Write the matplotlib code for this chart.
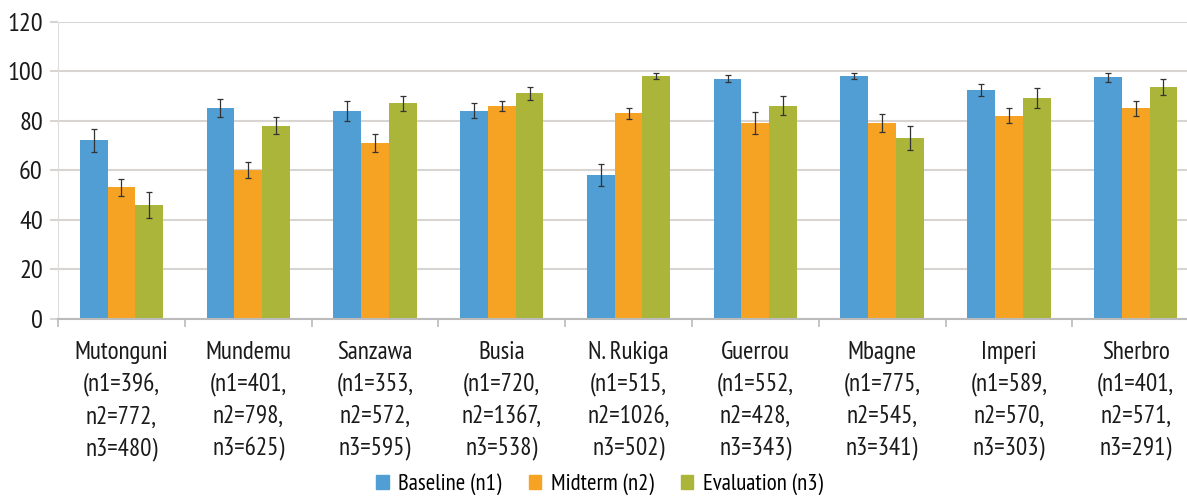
import numpy as np
import matplotlib.pyplot as plt
from matplotlib.patches import Patch

# sites and sample sizes
sites = ["Mutonguni", "Mundemu", "Sanzawa", "Busia", "N. Rukiga",
         "Guerrou", "Mbagne", "Imperi", "Sherbro"]
n1 = [396, 401, 353, 720, 515, 552, 775, 589, 401]
n2 = [772, 798, 572, 1367, 1026, 428, 545, 570, 571]
n3 = [480, 625, 595, 538, 502, 343, 341, 303, 291]

# percentages per round and error bar half-widths
baseline = [72, 85, 84, 84, 58, 97, 98, 92.5, 97.5]
midterm = [53, 60, 71, 86, 83, 79, 79, 82, 85]
evaluation = [46, 78, 87, 91, 98, 86, 73, 89, 93.5]
baseline_err = [4.5, 3.6, 4.0, 3.0, 4.5, 1.5, 1.2, 2.5, 1.7]
midterm_err = [3.4, 3.3, 3.6, 2.0, 2.3, 4.6, 3.5, 3.0, 3.0]
evaluation_err = [5.2, 3.5, 3.0, 2.5, 1.3, 3.8, 4.9, 4.0, 3.2]

series = ["Baseline (n1)", "Midterm (n2)", "Evaluation (n3)"]
colors = ["#509ED4", "#F6A323", "#AAB53A"]

plt.rcParams['font.family'] = ['PT Sans Narrow', 'DejaVu Sans']

fig = plt.figure(figsize=(11.87, 4.99), dpi=100)
ax = fig.add_axes([0.0489, 0.3617, 0.9613, 0.5948])

x = np.arange(len(sites))
w = 0.219
for k, (vals, errs) in enumerate([(baseline, baseline_err),
                                  (midterm, midterm_err),
                                  (evaluation, evaluation_err)]):
    ax.bar(x + (k - 1) * w, vals, width=w, color=colors[k], zorder=2)
    ax.errorbar(x + (k - 1) * w, vals, yerr=errs, fmt='none',
                ecolor='#333333', elinewidth=0.9, capsize=2, capthick=0.9, zorder=3)

ax.set_xlim(-0.5, len(sites) - 0.5)
ax.set_ylim(0, 120)
ax.set_yticks(range(0, 121, 20))
ax.yaxis.grid(True, color='#D8D4D2', linewidth=1.5, zorder=0)
ax.set_axisbelow(True)

labels = [f"{s}\n(n1={a},\nn2={b},\nn3={c})" for s, a, b, c in zip(sites, n1, n2, n3)]
ax.set_xticks(x)
ax.set_xticklabels(labels, fontsize=18, linespacing=1.48, color='#1a1a1a')
ax.tick_params(axis='x', which='major', length=0, pad=16)
ax.set_xticks(np.arange(-0.5, len(sites)), minor=True)
ax.tick_params(axis='x', which='minor', length=6, color='#BBBBBB', width=1.2)
ax.tick_params(axis='y', length=6, color='#D8D4D2', width=1.5, labelsize=19,
               labelcolor='#1a1a1a', pad=5)

for side in ['top', 'right']:
    ax.spines[side].set_visible(False)
ax.spines['left'].set_color('#DDDDDD')
ax.spines['bottom'].set_color('#BBBBBB')
ax.spines['bottom'].set_linewidth(1.5)

handles = [Patch(color=c) for c in colors]
fig.legend(handles, series, loc='center', bbox_to_anchor=(0.505, 0.03), ncol=3,
           frameon=False, fontsize=16.5, handlelength=0.55, handleheight=0.55,
           handletextpad=0.4, columnspacing=1.2, borderpad=0.1)

fig.savefig("out.png", dpi=100)
